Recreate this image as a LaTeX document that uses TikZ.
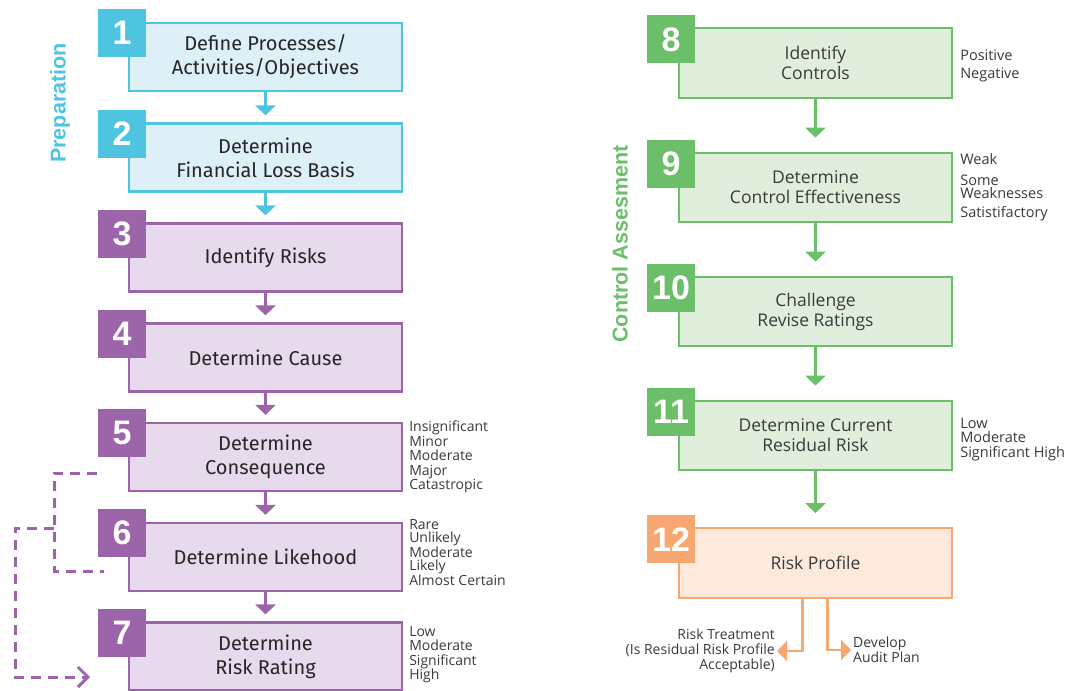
\documentclass[tikz,border=0pt]{standalone}
\usepackage{fontspec}
\setmainfont{Open Sans}
\newfontfamily\stepfont{Fira Sans}
\newfontfamily\arialfont{Liberation Sans}
\usetikzlibrary{arrows.meta,calc,positioning}
\definecolor{prepblue}{HTML}{4FC4E0}
\definecolor{prepfill}{HTML}{DEF0F7}
\definecolor{riskpurple}{HTML}{9D65A9}
\definecolor{riskfill}{HTML}{E6DAEC}
\definecolor{ctrlgreen}{HTML}{6BBF68}
\definecolor{ctrlfill}{HTML}{E0EFDC}
\definecolor{profileorange}{HTML}{F7A870}
\definecolor{profilefill}{HTML}{FDEADC}
\definecolor{labelgray}{HTML}{3A3A3A}
\tikzset{%
	stepbox/.style  = {draw, rectangle, line width=2.2pt, minimum width=273pt, minimum height=68pt, text centered, align=center},
	leftbox/.style  = {stepbox, text=black!85, font=\stepfont\fontsize{20}{24}\selectfont},
	rightbox/.style = {stepbox, minimum height=69.5pt, text=labelgray, font=\fontsize{17.5}{20}\selectfont},
	numbox/.style   = {rectangle, minimum size=48pt, inner sep=0pt, anchor=north west, text=white, font=\arialfont\bfseries\fontsize{34}{34}\selectfont},
	sidenote/.style = {align=left, inner sep=2pt, text=labelgray, font=\fontsize{14}{14.5}\selectfont},
	phase/.style    = {rotate=90, font=\arialfont\bfseries\fontsize{21.5}{24}\selectfont},
	flow/.style     = {line width=2.5pt, -{Triangle[width=20pt,length=10pt]}},
	loopline/.style = {line width=3pt, riskpurple, dash pattern=on 10pt off 7pt},
}
\begin{document}
\begin{tikzpicture}[x=1pt,y=-1pt]
	\useasboundingbox (0,0) rectangle (1072,691);
	% preparation and risk identification
	\node[leftbox, draw=prepblue, fill=prepfill] (b1) at (265.5,57) {Define Processes/\\Activities/Objectives};
	\node[leftbox, draw=prepblue, fill=prepfill] (b2) at (265.5,157.5) {Determine\\Financial Loss Basis};
	\node[leftbox, draw=riskpurple, fill=riskfill] (b3) at (265.5,257.5) {Identify Risks};
	\node[leftbox, draw=riskpurple, fill=riskfill] (b4) at (265.5,357.5) {Determine Cause};
	\node[leftbox, draw=riskpurple, fill=riskfill] (b5) at (265.5,457) {Determine\\Consequence};
	\node[leftbox, draw=riskpurple, fill=riskfill] (b6) at (265.5,557) {Determine Likehood};
	\node[leftbox, draw=riskpurple, fill=riskfill] (b7) at (265.5,656.5) {Determine\\Risk Rating};
	\node[numbox, fill=prepblue] (n1) at ([shift={(-30,-13)}]b1.north west) {1};
	\node[numbox, fill=prepblue] (n2) at ([shift={(-30,-13)}]b2.north west) {2};
	\node[numbox, fill=riskpurple] (n3) at ([shift={(-30,-13)}]b3.north west) {3};
	\node[numbox, fill=riskpurple] (n4) at ([shift={(-30,-13)}]b4.north west) {4};
	\node[numbox, fill=riskpurple] (n5) at ([shift={(-30,-13)}]b5.north west) {5};
	\node[numbox, fill=riskpurple] (n6) at ([shift={(-30,-13)}]b6.north west) {6};
	\node[numbox, fill=riskpurple] (n7) at ([shift={(-30,-13)}]b7.north west) {7};
	\draw[flow, prepblue] (b1.south) -- ([yshift=7pt]b2.north);
	\draw[flow, prepblue] (b2.south) -- ([yshift=7pt]b3.north);
	\draw[flow, riskpurple] (b3.south) -- ([yshift=7pt]b4.north);
	\draw[flow, riskpurple] (b4.south) -- ([yshift=7pt]b5.north);
	\draw[flow, riskpurple] (b5.south) -- ([yshift=7pt]b6.north);
	\draw[flow, riskpurple] (b6.south) -- ([yshift=7pt]b7.north);
	\node[sidenote, right=4pt of b5] (l5) {Insignificant\\Minor\\Moderate\\Major\\Catastropic};
	\node[sidenote, right=4pt of b6, yshift=4pt, font=\fontsize{14}{13}\selectfont] (l6) {Rare\\Unlikely\\Moderate\\Likely\\Almost Certain};
	\node[sidenote, right=4pt of b7, yshift=2pt] (l7) {Low\\Moderate\\Significant\\High};
	\coordinate (d5) at (97,473);
	\coordinate (dj) at (54,528);
	\coordinate (d6) at (104,571);
	\coordinate (d7) at (90,677);
	\draw[loopline] (d5) -| (dj) |- (d6);
	\draw[loopline, -{Straight Barb[width=20pt,length=10pt]}] (dj) -- ++(-39,0) |- (d7);
	\node[phase, prepblue] (prep) at (60,103) {Preparation};
	% control assessment
	\node[rightbox, draw=ctrlgreen, fill=ctrlfill] (b8) at (815.5,63) {Identify\\Controls};
	\node[rightbox, draw=ctrlgreen, fill=ctrlfill] (b9) at (815.5,187.5) {Determine\\Control Effectiveness};
	\node[rightbox, draw=ctrlgreen, fill=ctrlfill] (b10) at (815.5,311.5) {Challenge\\Revise Ratings};
	\node[rightbox, draw=ctrlgreen, fill=ctrlfill] (b11) at (815.5,435.5) {Determine Current\\Residual Risk};
	\node[rightbox, draw=profileorange, fill=profilefill] (b12) at (815.5,563) {Risk Profile};
	\node[numbox, fill=ctrlgreen] (n8) at ([shift={(-31,-12)}]b8.north west) {8};
	\node[numbox, fill=ctrlgreen] (n9) at ([shift={(-31,-12)}]b9.north west) {9};
	\node[numbox, fill=ctrlgreen] (n10) at ([shift={(-31,-12)}]b10.north west) {10};
	\node[numbox, fill=ctrlgreen] (n11) at ([shift={(-31,-12)}]b11.north west) {11};
	\node[numbox, fill=profileorange] (n12) at ([shift={(-31,-12)}]b12.north west) {12};
	\draw[flow, ctrlgreen] (b8.south) -- ([yshift=14pt]b9.north);
	\draw[flow, ctrlgreen] (b9.south) -- ([yshift=14pt]b10.north);
	\draw[flow, ctrlgreen] (b10.south) -- ([yshift=14pt]b11.north);
	\draw[flow, ctrlgreen] (b11.south) -- ([yshift=14pt]b12.north);
	\node[sidenote, right=5pt of b8, yshift=-3pt, font=\fontsize{14.5}{18}\selectfont] (l8) {Positive\\Negative};
	\node[sidenote, right=5pt of b9, font=\fontsize{14.5}{13.5}\selectfont] (l9) {Weak\\[7pt]Some\\Weaknesses\\[5.5pt]Satistifactory};
	\node[sidenote, right=5pt of b11, yshift=-4pt, font=\fontsize{14.5}{14.5}\selectfont] (l11) {Low\\Moderate\\Significant High};
	\node[sidenote, align=right, anchor=east, font=\fontsize{14}{15}\selectfont] (treat) at (777,651) {Risk Treatment\\(Is Residual Risk Profile\\Acceptable)};
	\node[sidenote, anchor=west, font=\fontsize{14}{15}\selectfont] (audit) at (851,650) {Develop\\Audit Plan};
	\draw[flow, profileorange] ([xshift=-13pt]b12.south) |- (treat.east);
	\draw[flow, profileorange] ([xshift=12pt]b12.south) |- (audit.west);
	\node[phase, ctrlgreen] (ctrl) at (620,244) {Control Assesment};
\end{tikzpicture}
\end{document}
